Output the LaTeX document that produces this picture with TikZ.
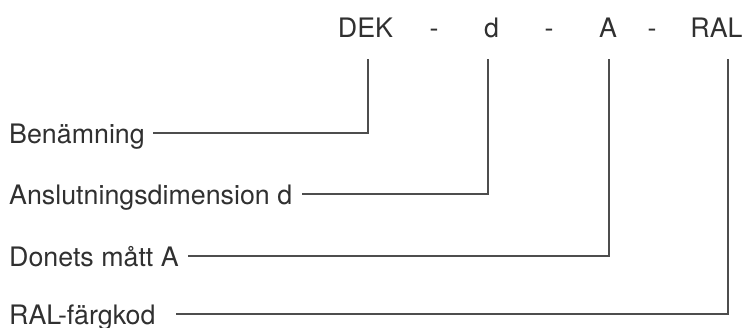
\documentclass[tikz,border=0pt]{standalone}
\usepackage{fontspec}
\setmainfont{TeX Gyre Heros}
\definecolor{txt}{HTML}{303030}
\definecolor{ln}{HTML}{4d4d4d}
\begin{document}
\begin{tikzpicture}[x=1pt,y=-1pt,
  lbl/.style={inner sep=0pt,anchor=base west,text=txt,font=\fontsize{26.8}{30}\selectfont},
  top/.style={inner sep=0pt,anchor=base,text=txt,font=\fontsize{26.8}{30}\selectfont},
  lead/.style={draw=ln,line width=1.5pt}]
\useasboundingbox (0,0) rectangle (747,327);
% top code
\node[top] (dek) at (365.5,37.5) {DEK};
\node[top] (m1) at (434,37.5) {-};
\node[top] (dd) at (491.5,37.5) {d};
\node[top] (m2) at (549,37.5) {-};
\node[top] (aa) at (608,37.5) {A};
\node[top] (m3) at (652,37.5) {-};
\node[top] (ral) at (716.5,37.5) {RAL};
% labels
\node[lbl] (l1) at (9,143) {Benämning};
\node[lbl] (l2) at (9,204) {Anslutningsdimension d};
\node[lbl] (l3) at (9,266) {Donets mått A};
\node[lbl] (l4) at (9,324) {RAL-färgkod};
% connector ends
\coordinate (s1) at (153,133);
\coordinate (s2) at (302,194);
\coordinate (s3) at (188,256);
\coordinate (s4) at (176,314);
\coordinate (t1) at (368,59);
\coordinate (t2) at (488,59);
\coordinate (t3) at (609,59);
\coordinate (t4) at (728,59);
\draw[lead] (s1) -| (t1);
\draw[lead] (s2) -| (t2);
\draw[lead] (s3) -| (t3);
\draw[lead] (s4) -| (t4);
\end{tikzpicture}
\end{document}
